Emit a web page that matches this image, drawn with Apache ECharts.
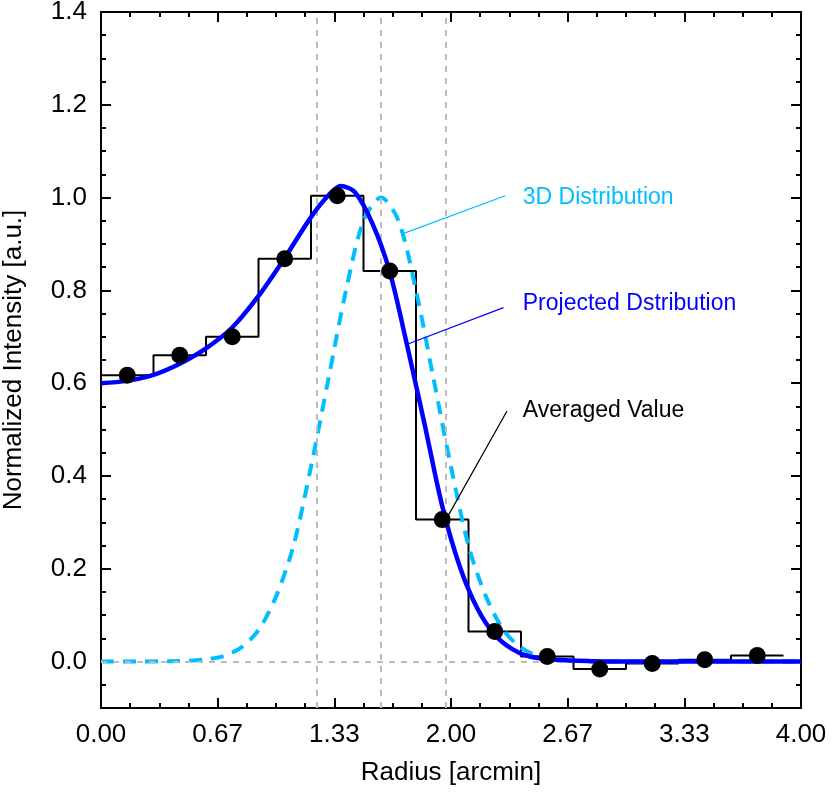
<!DOCTYPE html>
<html><head><meta charset="utf-8">
<script src="https://cdn.jsdelivr.net/npm/echarts@6/dist/echarts.min.js"></script>
<style>html,body{margin:0;padding:0;background:#fff}#c{width:831px;height:795px}</style>
</head><body><div id="c"></div>
<script>
// Averaged values (bin centres) and bin edges
const binEdges = [0,0.3,0.6,0.9,1.2,1.5,1.8,2.1,2.4,2.7,3.0,3.3,3.6,3.9];
const dotX = [0.15,0.45,0.75,1.05,1.35,1.65,1.95,2.25,2.55,2.85,3.15,3.45,3.75];
const dotY = [0.617,0.660,0.700,0.868,1.004,0.842,0.306,0.065,0.011,-0.016,-0.004,0.004,0.013];
// Projected distribution
const projX = [0,0.15,0.3,0.45,0.6,0.75,0.9,1.05,1.2,1.3,1.37,1.45,1.55,1.65,1.75,1.85,1.95,2.05,2.15,2.25,2.35,2.45,2.6,2.8,3.0,3.5,4.0];
const projY = [0.600,0.605,0.618,0.642,0.675,0.720,0.788,0.870,0.958,1.005,1.025,1.012,0.945,0.840,0.680,0.510,0.335,0.205,0.115,0.058,0.027,0.011,0.004,0.001,0,0,0];
// 3D distribution
const d3X = [0,0.2,0.4,0.5,0.6,0.7,0.8,0.9,1.0,1.1,1.2,1.3,1.4,1.5,1.6,1.7,1.8,1.9,2.0,2.1,2.2,2.3,2.4,2.5,2.6,2.8,3.0,3.5,4.0];
const d3Y = [0,0,0.001,0.002,0.005,0.012,0.03,0.068,0.14,0.25,0.42,0.61,0.80,0.95,1.0,0.95,0.80,0.61,0.42,0.25,0.14,0.068,0.03,0.012,0.005,0.001,0,0,0];
const vLines = [1.234,1.6,1.966];
const yTicks = [0,0.2,0.4,0.6,0.8,1.0,1.2,1.4];
const labels = [
  {text:'3D Distribution', color:'#00bfff', at:[2.41,1.0], from:[1.73,0.923], to:[2.31,1.004]},
  {text:'Projected Dstribution', color:'#0000ff', at:[2.41,0.772], from:[1.75,0.684], to:[2.30,0.763]},
  {text:'Averaged Value', color:'#000000', at:[2.41,0.54], from:[1.98,0.312], to:[2.32,0.54]}
];

const stepData = [];
dotY.forEach((v,i)=>{stepData.push([binEdges[i],v]);stepData.push([binEdges[i+1],v]);});

const F = 'Liberation Sans, Arial, sans-serif';
const xBase = {type:'value',min:0,max:4,interval:2/3,splitLine:{show:false},
  axisLine:{show:true,onZero:false,lineStyle:{color:'#000',width:2}},
  axisTick:{inside:true,length:10,lineStyle:{color:'#000',width:2}},
  minorTick:{show:true,splitNumber:4,length:5,lineStyle:{color:'#000',width:2}}};
const yMajor = {type:'value',min:-0.1,max:1.4,splitLine:{show:false},
  axisLine:{show:true,onZero:false,lineStyle:{color:'#000',width:2}},
  axisTick:{inside:true,length:10,customValues:yTicks,lineStyle:{color:'#000',width:2}}};
const yMinor = {type:'value',min:-0.1,max:1.4,interval:0.05,splitLine:{show:false},
  axisLine:{show:false,onZero:false},axisLabel:{show:false},
  axisTick:{inside:true,length:5,lineStyle:{color:'#000',width:2}}};

const chart = echarts.init(document.getElementById('c'));
chart.setOption({
  animation:false,
  grid:{left:101,right:30,top:12,bottom:87,containLabel:false,outerBoundsMode:'none'},
  xAxis:[
    Object.assign({},xBase,{position:'bottom',name:'Radius [arcmin]',nameLocation:'middle',nameGap:52,
      nameTextStyle:{fontFamily:F,fontSize:26,color:'#000'},
      axisLabel:{fontFamily:F,fontSize:26,color:'#000',margin:14,formatter:v=>v.toFixed(2)}}),
    Object.assign({},xBase,{position:'top',axisLabel:{show:false}})
  ],
  yAxis:[
    Object.assign({},yMajor,{position:'left',name:'Normalized Intensity [a.u.]',nameLocation:'middle',nameGap:74,
      nameTextStyle:{fontFamily:F,fontSize:26,color:'#000'},
      axisLabel:{fontFamily:F,fontSize:26,color:'#000',margin:14,customValues:yTicks,formatter:v=>v.toFixed(1)}}),
    Object.assign({},yMajor,{position:'right',axisLabel:{show:false}}),
    Object.assign({},yMinor,{position:'left'}),
    Object.assign({},yMinor,{position:'right'})
  ],
  series:[
    {type:'line',data:[],silent:true,markLine:{symbol:'none',silent:true,label:{show:false},
      lineStyle:{color:'#bbbbbb',type:[6,6],width:2},
      data:[{yAxis:0}].concat(vLines.map(v=>({xAxis:v})))}},
    {type:'line',data:stepData,symbol:'none',lineStyle:{color:'#000',width:2},z:3},
    {type:'line',data:d3X.map((x,i)=>[x,d3Y[i]]),smooth:0.3,symbol:'none',
      lineStyle:{color:'#00bfff',width:4,type:[13,9]},z:4},
    {type:'line',data:projX.map((x,i)=>[x,projY[i]]),smooth:0.3,symbol:'none',
      lineStyle:{color:'#0000ff',width:4.5},z:5},
    {type:'scatter',data:dotX.map((x,i)=>[x,dotY[i]]),symbolSize:17,itemStyle:{color:'#000',opacity:1},z:6},
    {type:'line',data:[],silent:true,markLine:{symbol:'none',silent:true,label:{show:false},
      data:labels.map(l=>[{coord:l.from,lineStyle:{color:l.color,width:1.2,type:'solid'}},{coord:l.to}])}},
    {type:'scatter',data:labels.map(l=>({value:l.at,label:{color:l.color}})),symbolSize:0,itemStyle:{opacity:1},
      label:{show:true,position:'right',distance:0,fontFamily:F,fontSize:23,opacity:1,formatter:p=>labels[p.dataIndex].text}}
  ]
});
</script></body></html>
